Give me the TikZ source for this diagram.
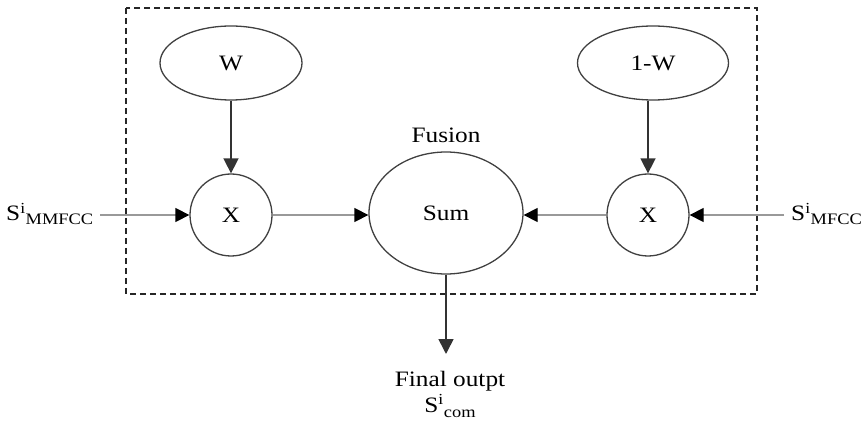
\documentclass[tikz,border=0pt]{standalone}
\usepackage{fontspec}
\setmainfont[FakeStretch=1.15]{Liberation Serif}
\usetikzlibrary{arrows.meta,shapes.geometric}
\begin{document}
\begin{tikzpicture}[x=1pt,y=-1pt,
  every node/.style={font=\fontsize{22}{25}\selectfont},
  oval/.style={draw=black!75,line width=1.3pt,ellipse,inner sep=0pt},
  circ/.style={draw=black!75,line width=1.3pt,circle,inner sep=0pt,minimum size=82pt},
  darr/.style={draw=black!80,line width=1.6pt,-{Triangle[length=15pt,width=15pt]}},
  garr/.style={draw=black!40,line width=1.3pt,-{Triangle[length=14pt,width=14pt,fill=black,color=black]}},
  frame/.style={draw=black!85,line width=1.6pt,dash pattern=on 6pt off 4pt}]
\useasboundingbox (0,0) rectangle (865,422);
\draw[frame] (126,8) rectangle (757,294);
\node[oval,minimum width=142pt,minimum height=74pt] (w) at (231,63) {W};
\node[oval,minimum width=151pt,minimum height=74pt] (ow) at (653,63) {1-W};
\node[circ] (x1) at (231,215) {X};
\node[circ] (x2) at (648,215) {X};
\node[oval,minimum width=154pt,minimum height=122pt] (sum) at (446,213) {Sum};
\node (fus) at (446,135) {Fusion};
\node[anchor=base west,inner sep=0pt] (lin) at (6,221) {S\textsuperscript{i}\raisebox{-0.35ex}{\fontsize{16}{18}\selectfont MMFCC}};
\node[anchor=base west,inner sep=0pt] (rin) at (791,221) {S\textsuperscript{i}\raisebox{-0.35ex}{\fontsize{16}{18}\selectfont MFCC}};
\node (fo) at (450,381) {Final outpt};
\node (sc) at (450,406) {S\textsuperscript{i}\raisebox{-0.45ex}{\fontsize{16}{18}\selectfont com}};
\coordinate (fend) at (446,354);
\coordinate (ls) at (100,215);
\coordinate (rs) at (784,215);
\draw[darr] (w.south) -- (x1.north);
\draw[darr] (ow.south -| x2.north) -- (x2.north);
\draw[garr] (ls) -- (x1.west);
\draw[garr] (rs) -- (x2.east);
\draw[garr] (x1.east) -- (sum.west |- x1.east);
\draw[garr] (x2.west) -- (sum.east |- x2.west);
\draw[darr] (sum.south) -- (fend);
\end{tikzpicture}
\end{document}
